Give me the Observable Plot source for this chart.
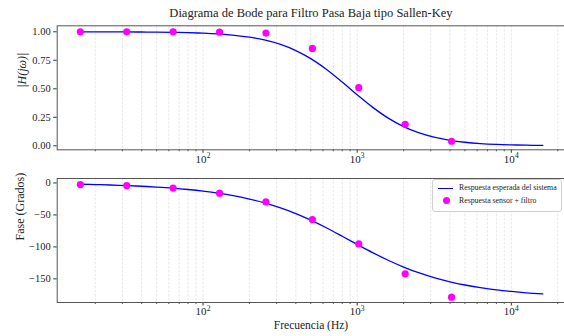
<!DOCTYPE html>
<html>
<head>
<meta charset="utf-8">
<script src="https://cdn.jsdelivr.net/npm/d3@7"></script>
<script src="https://cdn.jsdelivr.net/npm/@observablehq/plot@0.6"></script>
<style>
  html, body { margin: 0; padding: 0; background: #fff; }
  #wrap { position: relative; width: 564px; height: 336px; overflow: hidden; font-family: "Liberation Serif", "DejaVu Serif", serif; color: #222; }
  #wrap svg { position: absolute; left: 0; overflow: hidden; }
  .title { position: absolute; left: 0; width: 622px; top: 6px; text-align: center; font-size: 12.5px; white-space: nowrap; }
  .xlabel { position: absolute; left: 0; width: 622px; top: 319px; text-align: center; font-size: 11.5px; white-space: nowrap; }
  .legend { position: absolute; left: 432px; top: 179px; width: 128px; height: 31px; border: 1px solid #d0d0d0; border-radius: 3px; background: rgba(255,255,255,0.85); font-size: 7.8px; }
  .legend .sw-line { position: absolute; left: 5px; width: 15px; height: 1.4px; background: #0000ff; }
  .legend .sw-dot { position: absolute; left: 10px; width: 7px; height: 7px; border-radius: 50%; background: #ff00ff; }
  .legend .txt { position: absolute; left: 26px; white-space: nowrap; }
</style>
</head>
<body>
<div id="wrap">
  <div class="title">Diagrama de Bode para Filtro Pasa Baja tipo Sallen-Key</div>
  <div class="xlabel">Frecuencia (Hz)</div>
</div>
<script>
// Measured points (sensor + filter)
const freqMeas = [16, 32, 64, 128, 256, 512, 1024, 2048, 4096];
const magMeas = [1.0, 1.0, 1.0, 0.997, 0.989, 0.854, 0.51, 0.189, 0.04];
const phaseMeas = [-2.5, -4, -8, -16, -29.7, -57.2, -95.3, -142.2, -178.6];

// Expected system response
const freqModel = [16, 20, 25, 32, 40, 50, 63, 80, 100, 125, 160, 200, 250, 315, 400, 500, 630, 800, 1000, 1250, 1600, 2000, 2500, 3150, 4000, 5000, 6300, 8000, 10000, 12500, 16000];
const magModel = [0.9997, 0.9995, 0.9992, 0.9987, 0.998, 0.9969, 0.9951, 0.9922, 0.9878, 0.9811, 0.9694, 0.9529, 0.9284, 0.8909, 0.835, 0.7642, 0.671, 0.5586, 0.4475, 0.3414, 0.2404, 0.1684, 0.1147, 0.0755, 0.0482, 0.0314, 0.02, 0.0125, 0.008, 0.0052, 0.0032];
const phaseModel = [-2.0, -2.5, -3.2, -4.1, -5.1, -6.4, -8.0, -10.2, -12.7, -15.8, -20.2, -25.1, -31.0, -38.6, -47.9, -58.1, -70.0, -83.3, -96.0, -108.5, -121.3, -131.5, -140.4, -148.1, -154.6, -159.6, -163.7, -167.2, -169.7, -171.8, -173.6];

// Tick values
const majorTicks = [100, 1000, 10000];
const minorTicks = [20, 30, 40, 50, 60, 70, 80, 90, 200, 300, 400, 500, 600, 700, 800, 900, 2000, 3000, 4000, 5000, 6000, 7000, 8000, 9000, 20000];
const magTicks = [0, 0.25, 0.5, 0.75, 1.0];
const phaseTicks = [0, -50, -100, -150];
const majorBase = ["10", "10", "10"];
const majorExp = ["2", "3", "4"];

const legendLabels = ["Respuesta esperada del sistema", "Respuesta sensor + filtro"];

const model = freqModel.map((f, i) => ({f, mag: magModel[i], ph: phaseModel[i]}));
const meas = freqMeas.map((f, i) => ({f, mag: magMeas[i], ph: phaseMeas[i]}));
const majors = majorTicks.map((f, i) => ({f, base: majorBase[i], exp: majorExp[i]}));

const xDomain = [Math.pow(10, 1.054), Math.pow(10, 4.354)];
const font = '"Liberation Serif", "DejaVu Serif", serif';
const axisColor = "#333";

function panel({height, marginTop, marginBottom, yDomain, yField, yTicks, yFormat, ylabel, ylabelDx}) {
  return Plot.plot({
    width: 564,
    height,
    marginLeft: 56.7,
    marginRight: -1.4,
    marginTop,
    marginBottom,
    style: {fontFamily: font, fontSize: "10.5px", color: axisColor, background: "transparent"},
    x: {type: "log", domain: xDomain},
    y: {domain: yDomain},
    marks: [
      Plot.ruleX(minorTicks.concat(majorTicks), {stroke: "#c8c8c8", strokeOpacity: 0.6, strokeWidth: 0.7, strokeDasharray: "2.5,1.5"}),
      Plot.axisX(minorTicks, {tickSize: 2, tickFormat: () => "", stroke: axisColor, strokeWidth: 0.8, label: null}),
      Plot.axisX(majorTicks, {tickSize: 3.5, tickFormat: () => "", stroke: axisColor, label: null}),
      Plot.text(majors, {x: "f", text: "base", frameAnchor: "bottom", dy: 12.8, dx: -2, fontSize: 11, fill: "#222"}),
      Plot.text(majors, {x: "f", text: "exp", frameAnchor: "bottom", dy: 8.3, dx: 5.5, fontSize: 7.5, fill: "#222"}),
      Plot.axisY(yTicks, {tickSize: 3.5, tickPadding: 3, tickFormat: yFormat, stroke: axisColor, fill: "#222", label: null}),
      Plot.frame({stroke: "#555", strokeWidth: 1}),
      Plot.line(model, {x: "f", y: yField, stroke: "#0000ff", strokeWidth: 1.3, curve: "catmull-rom"}),
      Plot.dot(meas, {x: "f", y: yField, r: 3.6, fill: "#ff00ff", stroke: "none"}),
      Plot.text([ylabel], {frameAnchor: "left", rotate: -90, dx: ylabelDx, fontSize: 12, fill: "#222", fontStyle: ylabel.startsWith("|") ? "italic" : "normal"})
    ]
  });
}

const magPanel = panel({
  height: 176, marginTop: 25.3, marginBottom: 26.7,
  yDomain: [-0.035, 1.0525], yField: "mag", yTicks: magTicks,
  yFormat: d3.format(".2f"), ylabel: "|H(jω)|", ylabelDx: -35
});
magPanel.style.top = "0px";

const phasePanel = panel({
  height: 171, marginTop: 13, marginBottom: 34,
  yDomain: [-187, 7], yField: "ph", yTicks: phaseTicks,
  yFormat: (d) => d < 0 ? "\u2212" + Math.abs(d) : String(d), ylabel: "Fase (Grados)", ylabelDx: -37
});
phasePanel.style.top = "165px";

const wrap = document.getElementById("wrap");
wrap.insertBefore(phasePanel, wrap.firstChild);
wrap.insertBefore(magPanel, wrap.firstChild);

// legend (HTML overlay with real text)
const lg = document.createElement("div");
lg.className = "legend";
lg.innerHTML =
  `<div class="sw-line" style="top:8px"></div><div class="txt" style="top:3px">${legendLabels[0]}</div>` +
  `<div class="sw-dot" style="top:17px"></div><div class="txt" style="top:15.5px">${legendLabels[1]}</div>`;
wrap.appendChild(lg);
</script>
</body>
</html>
